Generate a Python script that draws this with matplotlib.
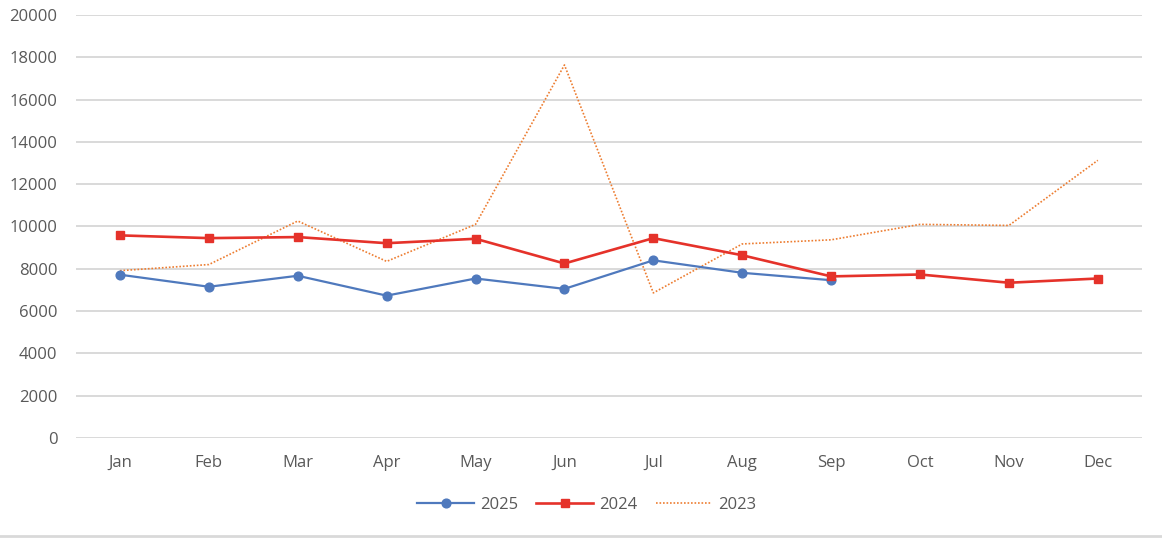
import matplotlib
matplotlib.use("Agg")
import matplotlib.pyplot as plt
from matplotlib.lines import Line2D

months = ["Jan", "Feb", "Mar", "Apr", "May", "Jun", "Jul", "Aug", "Sep", "Oct", "Nov", "Dec"]
s2025 = [7720, 7150, 7670, 6730, 7540, 7050, 8400, 7810, 7460]
s2024 = [9580, 9450, 9500, 9210, 9420, 8250, 9450, 8640, 7640, 7730, 7340, 7540]
s2023 = [7910, 8200, 10260, 8350, 10100, 17640, 6860, 9175, 9370, 10100, 10050, 13130]
yticks = [0, 2000, 4000, 6000, 8000, 10000, 12000, 14000, 16000, 18000, 20000]

plt.rcParams['font.family'] = ['Open Sans', 'DejaVu Sans']

fig = plt.figure(figsize=(11.62, 5.38), dpi=100)
ax = fig.add_axes([0.065, 0.186, 0.918, 0.786])

c25 = "#4F79BD"
c24 = "#E5322A"
c23 = "#ED7D31"

ax.plot(range(len(s2023)), s2023, color=c23, lw=1.2, ls=(0, (1, 1.1)), label="2023", zorder=3)
ax.plot(range(len(s2025)), s2025, color=c25, lw=1.6, marker='o', ms=6.3, label="2025", zorder=4)
ax.plot(range(len(s2024)), s2024, color=c24, lw=1.9, marker='s', ms=5.8, label="2024", zorder=5)

ax.set_xlim(-0.5, 11.5)
ax.set_ylim(0, 20000)
ax.set_yticks(yticks)
ax.set_yticklabels([str(v) for v in yticks])
ax.set_xticks(range(12))
ax.set_xticklabels(months)
ax.yaxis.grid(True, color="#D9D9D9", lw=1.4)
ax.set_axisbelow(True)
for s in ax.spines.values():
    s.set_visible(False)
ax.tick_params(axis='both', length=0, colors="#595959", labelsize=12)
ax.tick_params(axis='y', pad=13)
ax.tick_params(axis='x', pad=12)

handles = [
    Line2D([], [], color=c25, lw=1.6, marker='o', ms=6.3),
    Line2D([], [], color=c24, lw=1.9, marker='s', ms=5.8),
    Line2D([], [], color=c23, lw=1.2, ls=(0, (1, 1.1))),
]
leg = fig.legend(handles, ["2025", "2024", "2023"], loc='center', bbox_to_anchor=(0.505, 0.061),
                 ncol=3, frameon=False, fontsize=12, handlelength=3.4, columnspacing=1.1,
                 handletextpad=0.35)
for t in leg.get_texts():
    t.set_color("#595959")

fig.add_artist(Line2D([0, 1], [0.004, 0.004], transform=fig.transFigure, color="#D9D9D9", lw=2))

fig.savefig("out.png", dpi=100)
